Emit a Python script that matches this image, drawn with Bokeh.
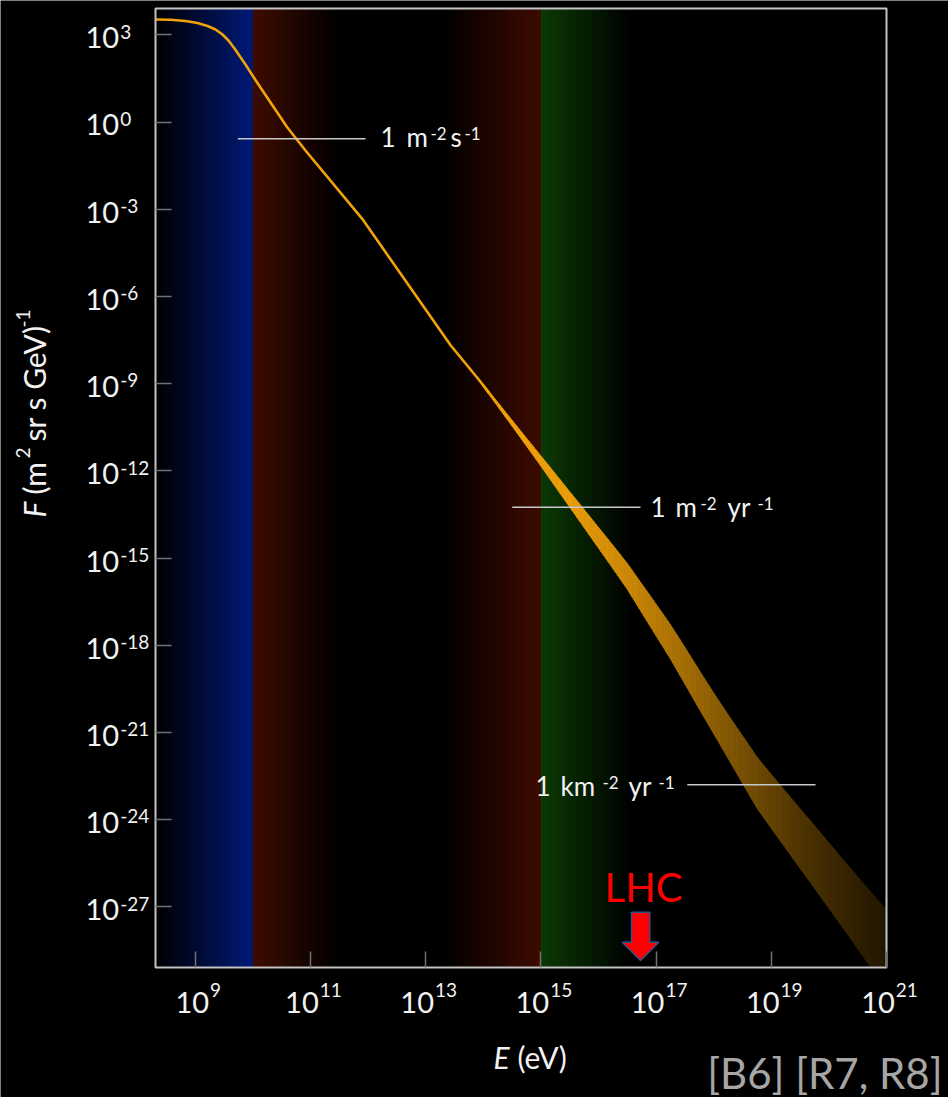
import math
from bokeh.plotting import figure
from bokeh.models import Range1d, FixedTicker, Label, CustomJSTickFormatter
from bokeh.embed import file_html
from bokeh.resources import INLINE

# ---------------- data ----------------
# thin part of the all-particle spectrum: log10(E / eV), log10(F)
spectrum_logE = [8.31, 8.57, 8.831, 9.039, 9.213, 9.352, 9.473, 9.577, 9.682, 9.872,
                 10.051, 10.307, 10.596, 10.914, 11.899, 13.436, 13.935, 14.10]
spectrum_logF = [3.527, 3.516, 3.475, 3.406, 3.303, 3.183, 3.011, 2.804, 2.529, 1.979,
                 1.428, 0.671, -0.178, -0.980, -3.330, -7.688, -8.892, -9.32]

# uncertainty band at high energy: log10(E), upper / lower log10(F)
band_logE = [14.0, 14.25, 14.5, 14.75, 15.0, 15.25, 15.5, 15.75, 16.0, 16.25, 16.5,
             16.75, 17.0, 17.25, 17.5, 17.75, 18.0, 18.25, 18.5, 18.75, 19.0, 19.25,
             19.5, 19.75, 20.0, 20.25, 20.5, 20.75, 21.0]
band_upper_logF = [-9.01, -9.64, -10.26, -10.875, -11.485, -12.10, -12.715, -13.33,
                   -13.945, -14.56, -15.185, -15.885, -16.585, -17.29, -18.07, -18.865,
                   -19.64, -20.39, -21.115, -21.84, -22.445, -23.035, -23.625, -24.205,
                   -24.795, -25.385, -25.96, -26.54, -27.11]
band_lower_logF = [-9.11, -9.78, -10.46, -11.145, -11.835, -12.54, -13.245, -13.95,
                   -14.655, -15.36, -16.075, -16.875, -17.675, -18.47, -19.33, -20.195,
                   -21.04, -21.89, -22.745, -23.60, -24.295, -24.985, -25.675, -26.355,
                   -27.045, -27.735, -28.44, -29.14, -29.83]

# integral-rate reference levels
rate_texts = [["1", "m", "-2", "s", "-1"],
              ["1", "m", "-2", "yr", "-1"],
              ["1", "km", "-2", "yr", "-1"]]
rate_level_logF = [-0.578, -13.251, -22.800]
rate_from_logE = [9.739, 14.503, 17.541]
rate_to_logE = [11.956, 16.730, 19.768]

# energy regions (background colours)
region_from_logE = [8.31, 10.0, 15.0]
region_to_logE = [10.0, 15.0, 16.6]

# LHC marker
lhc_logE = 16.73
lhc_text = "LHC"

# axes
x_tick_exp = [9, 11, 13, 15, 17, 19, 21]
y_tick_exp = [3, 0, -3, -6, -9, -12, -15, -18, -21, -24, -27]
x_title = ["E", "(eV)"]
y_title = ["F", "(m", "2", "sr s GeV)", "-1"]
source_text = "[B6] [R7, R8]"

# ---------------- layout / style ----------------
W, H = 948, 1097
BOX_L, BOX_R, BOX_T, BOX_B = 155, 886, 8, 967      # chart box, canvas pixels
XMIN, XMAX = 8.31, 21.0                            # log10 E at box edges
YMIN, YMAX = -29.085, 3.905                        # log10 F at box edges
PPX = (BOX_R - BOX_L) / (XMAX - XMIN)
PPY = (BOX_B - BOX_T) / (YMAX - YMIN)
XLO, XHI = XMIN - BOX_L / PPX, XMAX + (W - BOX_R) / PPX
YLO, YHI = YMIN - (H - BOX_B) / PPY, YMAX + BOX_T / PPY


def X(px):
    return 10 ** (XMIN + (px - BOX_L) / PPX)


def Y(py):
    return 10 ** (YMAX - (py - BOX_T) / PPY)


def px_of(le):
    return BOX_L + (le - XMIN) * PPX


def py_of(lf):
    return BOX_T + (YMAX - lf) * PPY


p = figure(width=W, height=H, x_axis_type="log", y_axis_type="log",
           x_range=Range1d(10 ** XLO, 10 ** XHI),
           y_range=Range1d(10 ** YLO, 10 ** YHI),
           output_backend="svg", toolbar_location=None, min_border=0,
           background_fill_color="#000000", border_fill_color="#000000",
           outline_line_color=None)
p.grid.visible = False

p.xaxis.fixed_location = 10 ** YMIN
p.yaxis.fixed_location = 10 ** XMIN
for ax, exps in ((p.xaxis, x_tick_exp), (p.yaxis, y_tick_exp)):
    ax.ticker = FixedTicker(ticks=[10.0 ** e for e in exps], minor_ticks=[])
    ax.formatter = CustomJSTickFormatter(code="return ''")
    ax.major_tick_in = 16
    ax.major_tick_out = 0
    ax.major_tick_line_color = "#707070"
    ax.major_tick_line_width = 1.5
    ax.minor_tick_line_color = None
    ax.axis_line_color = None
    ax.major_label_text_font_size = "0px"
    ax.major_label_standoff = 0


# ---- background gradients (styling) ----
def hex2rgb(h):
    h = h.lstrip("#")
    return tuple(int(h[i:i + 2], 16) for i in (0, 2, 4))


def rgb2hex(c):
    return "#%02x%02x%02x" % tuple(max(0, min(255, int(round(v)))) for v in c)


blue, red, green, black = "#001a78", "#3e0c00", "#0c3a05", "#000000"
stops = [
    (region_from_logE[0], black, region_to_logE[0], blue),
    (region_from_logE[1], red, 11.5, black),
    (13.3, black, region_to_logE[1], red),
    (region_from_logE[2], green, region_to_logE[2], black),
]
qL, qR, qC = [], [], []
STEP = 0.02
for a, ca, b, cb in stops:
    n = max(1, math.ceil((b - a) / STEP))
    c0, c1 = hex2rgb(ca), hex2rgb(cb)
    for k in range(n):
        l = a + k * (b - a) / n
        r = a + (k + 1) * (b - a) / n
        t = (k + 0.5) / n
        qL.append(10 ** l)
        qR.append(10 ** (r + (0.012 if k < n - 1 else 0.0)))
        qC.append(rgb2hex([c0[i] + (c1[i] - c0[i]) * t for i in range(3)]))
p.quad(left=qL, right=qR, bottom=10 ** YMIN, top=10 ** YMAX,
       fill_color=qC, line_color=None)

# ---- spectrum line ----
orange = (242, 162, 10)
p.line([10 ** v for v in spectrum_logE], [10 ** v for v in spectrum_logF],
       line_color=rgb2hex(orange), line_width=2.6, line_join="round")

# ---- band with fading colour (each segment split into thin strips) ----
fade_logE = [14.0, 15.5, 16.5, 17.5, 18.5, 19.5, 20.5, 21.0]
fade_val = [1.0, 0.97, 0.85, 0.68, 0.50, 0.33, 0.20, 0.14]


def fade(le):
    for i in range(len(fade_logE) - 1):
        if fade_logE[i] <= le <= fade_logE[i + 1]:
            t = (le - fade_logE[i]) / (fade_logE[i + 1] - fade_logE[i])
            return fade_val[i] + t * (fade_val[i + 1] - fade_val[i])
    return fade_val[-1]


bxs, bys, bcs = [], [], []
SUB = 6
for i in range(len(band_logE) - 1):
    e0, e1 = band_logE[i], band_logE[i + 1]
    u0, u1 = band_upper_logF[i], band_upper_logF[i + 1]
    l0, l1 = band_lower_logF[i], band_lower_logF[i + 1]
    for k in range(SUB):
        ta, tb = k / SUB, (k + 1) / SUB
        ea, eb = e0 + (e1 - e0) * ta, e0 + (e1 - e0) * tb
        ua, ub = u0 + (u1 - u0) * ta, u0 + (u1 - u0) * tb
        la, lb = l0 + (l1 - l0) * ta, l0 + (l1 - l0) * tb
        bxs.append([10 ** ea, 10 ** eb, 10 ** eb, 10 ** ea])
        bys.append([10 ** ua, 10 ** ub, 10 ** lb, 10 ** la])
        bcs.append(rgb2hex([c * fade(0.5 * (ea + eb)) for c in orange]))
p.patches(bxs, bys, fill_color=bcs, line_color=bcs, line_width=0.8)

# mask anything of the band that runs below the chart box
p.quad(left=[10 ** XMIN], right=[10 ** XHI], bottom=[10 ** YLO], top=[10 ** YMIN],
       fill_color="#000000", line_color=None)

# ---- rate reference lines ----
p.segment(x0=[10 ** v for v in rate_from_logE], x1=[10 ** v for v in rate_to_logE],
          y0=[10 ** v for v in rate_level_logF], y1=[10 ** v for v in rate_level_logF],
          line_color="#c8c8c8", line_width=1.5)

# ---- LHC arrow ----
tip_x, tip_y = px_of(lhc_logE), 960
arrow_dx = [-9, 9.3, 9.3, 18.3, 0, -18.3, -9]
arrow_dy = [-48.3, -48.3, -18.3, -18.3, 0, -18.3, -18.3]
p.patch([X(tip_x + d) for d in arrow_dx], [Y(tip_y + d) for d in arrow_dy],
        fill_color="#ff0000", line_color="#2f528f", line_width=1.5)

# chart box border
p.quad(left=[10 ** XMIN], right=[10 ** XMAX], bottom=[10 ** YMIN], top=[10 ** YMAX],
       fill_color=None, line_color="#c4c4c4", line_width=2)

# ---- texts ----
SHIFT = 0.38   # measured offset of the rendered baseline, in em


def txt(text, px, py, size, color="#f2f2f2", align="left", style="normal",
        angle=0.0, font="Lato"):
    if angle:
        px = px - SHIFT * size
    else:
        py = py - SHIFT * size
    p.add_layout(Label(x=X(px), y=Y(py), text=text,
                       text_font=font, text_font_size=f"{size}px", text_color=color,
                       text_align=align, text_baseline="alphabetic",
                       text_font_style=style, angle=angle))


BASE, SUP = 29, 19
W10 = 0.58 * BASE * 2

# y tick labels
for e in y_tick_exp:
    ty = py_of(e)
    txt("10", 85, ty + 14, BASE)
    txt(str(e), 85 + W10 + 1, ty + 4, SUP)

# x tick labels
for e in x_tick_exp:
    tx = px_of(e)
    wex = 0.58 * SUP * len(str(e))
    start = tx - (W10 + 1 + wex) / 2 + 3
    txt("10", start, 1013, BASE)
    txt(str(e), start + W10 + 1, 997, SUP)

# axis titles
txt(x_title[0], 493, 1068, 30, style="italic")
txt(x_title[1], 517, 1068, 30)
ang = math.pi / 2
txt(y_title[0], 45, 517, 30, style="italic", angle=ang)
txt(y_title[1], 45, 494, 30, angle=ang)
txt(y_title[2], 30, 458, 19, angle=ang)
txt(y_title[3], 45, 441, 30, angle=ang)
txt(y_title[4], 30, 327, 19, angle=ang)

# rate labels (runs anchored where the reference places them)
rate_run_x = [[380, 406, 430, 450, 464],
              [650, 675, 700, 727, 757],
              [535, 560, 602, 628, 658]]
rate_base_y = [146.7, 516.3, 795]
for parts, xs, by in zip(rate_texts, rate_run_x, rate_base_y):
    for k, (s, x) in enumerate(zip(parts, xs)):
        sup = k in (2, 4)
        txt(s, x, by - 7 if sup else by, 17 if sup else 26)

# LHC text and source
txt(lhc_text, 643, 901.7, 40, color="#ff0000", align="center")
txt(source_text, 942, 1088, 42, color="#a6a6a6", align="right")

open("out.html", "w").write(file_html(p, INLINE))
